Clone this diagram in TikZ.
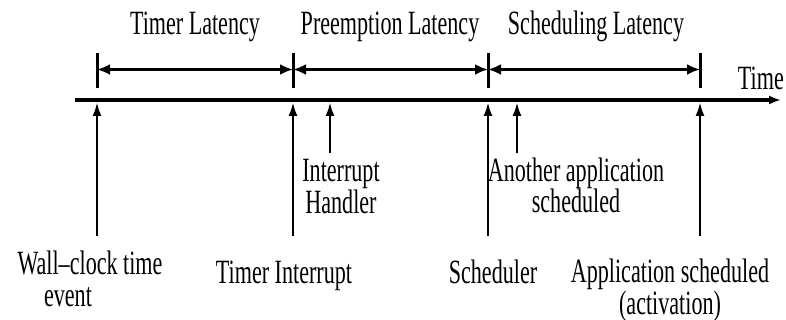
\documentclass[tikz,border=0pt]{standalone}
\usepackage{fontspec}
\setmainfont{Liberation Serif}[FakeStretch=0.65]
\usetikzlibrary{arrows.meta}

\begin{document}
\begin{tikzpicture}[x=1pt,y=-1pt,>=Latex,line join=miter]
\useasboundingbox[fill=white] (0,0) rectangle (786,320);
\tikzset{axis/.style={draw=black,line width=3.5pt,-{Latex[length=12pt,width=9pt]}},span/.style={draw=black,line width=3.5pt,{Latex[length=13pt,width=11pt]}-{Latex[length=13pt,width=11pt]}},tick/.style={draw=black,line width=3pt},event/.style={draw=black,line width=2.6pt,-{Latex[length=14pt,width=9pt]}},lbl/.style={anchor=base,align=center,inner sep=0pt,font=\fontsize{34}{32}\selectfont}}
\coordinate (t0) at (75,100); \coordinate (t1) at (781,100);
\draw[axis] (t0) -- (t1);
\node[lbl,anchor=base east] (timelbl) at (784,90) {Time};
\coordinate (k1) at (97,53); \coordinate (k2) at (293,53); \coordinate (k3) at (488,53); \coordinate (k4) at (700,53);
\draw[tick] (k1) -- ++(0,35); \draw[tick] (k2) -- ++(0,35); \draw[tick] (k3) -- ++(0,35); \draw[tick] (k4) -- ++(0,35);
\coordinate (s1) at (97,69.5); \coordinate (s2) at (293,69.5); \coordinate (s3) at (488,69.5); \coordinate (s4) at (700,69.5);
\draw[span] (s1) -- (s2); \draw[span] (s2) -- (s3); \draw[span] (s3) -- (s4);
\node[lbl] (timerlat) at (195,35) {Timer Latency};
\node[lbl] (preemptlat) at (390,35) {Preemption Latency};
\node[lbl] (schedlat) at (596,35) {Scheduling Latency};
\coordinate (ewall) at (97,102); \coordinate (ewallB) at (97,236);
\coordinate (etimer) at (293,102); \coordinate (etimerB) at (293,236);
\coordinate (ehandler) at (330,102); \coordinate (ehandlerB) at (330,153);
\coordinate (esched) at (488,102); \coordinate (eschedB) at (488,236);
\coordinate (eother) at (517,102); \coordinate (eotherB) at (517,153);
\coordinate (eapp) at (700,102); \coordinate (eappB) at (700,236);
\draw[event] (ewallB) -- (ewall); \draw[event] (etimerB) -- (etimer); \draw[event] (ehandlerB) -- (ehandler);
\draw[event] (eschedB) -- (esched); \draw[event] (eotherB) -- (eother); \draw[event] (eappB) -- (eapp);
\node[lbl] (handler) at (341,214) {Interrupt\\Handler};
\node[lbl] (another) at (576,213) {Another application\\scheduled};
\node[lbl] (wallclock) at (90,306) {Wall--clock time\\event\hspace*{44pt}};
\node[lbl] (timerint) at (284,283) {Timer Interrupt};
\node[lbl] (sched) at (493,283) {Scheduler};
\node[lbl] (appsched) at (670,314) {Application scheduled\\(activation)};
\end{tikzpicture}
\end{document}
